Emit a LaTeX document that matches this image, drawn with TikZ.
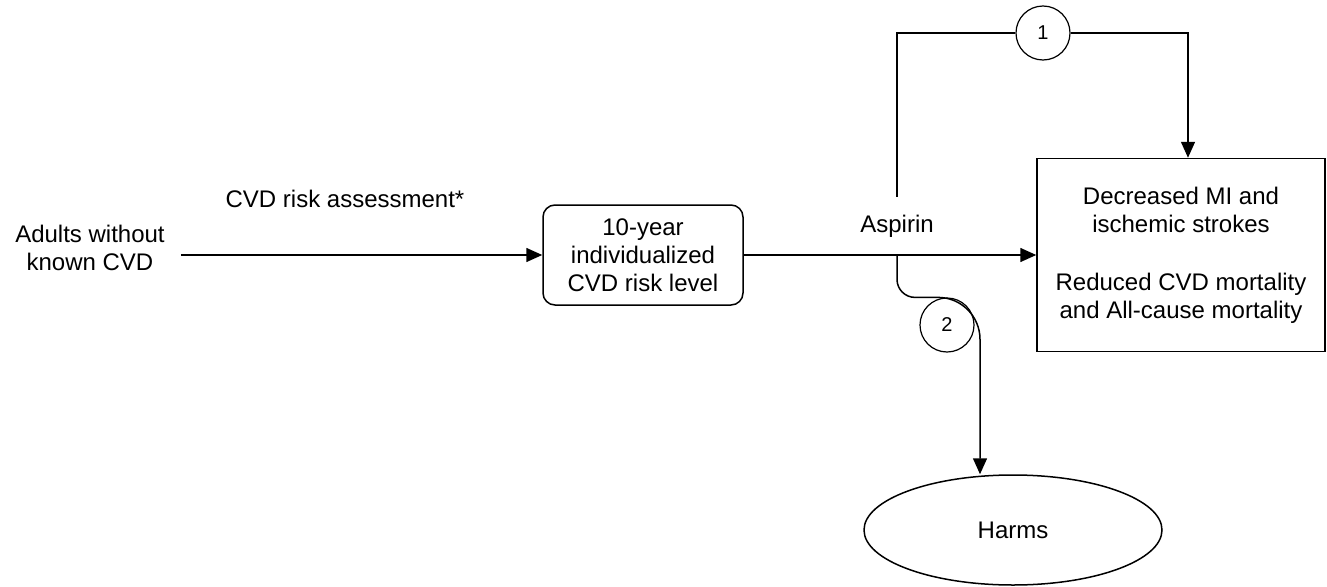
\documentclass[tikz,border=0pt]{standalone}
\usepackage{fontspec}
\setmainfont{Liberation Sans}
\usetikzlibrary{arrows.meta,shapes,positioning,shapes.geometric}

\begin{document}
\begin{tikzpicture} [
		x=1pt, y=-1pt,
		font=\fontsize{24}{28}\selectfont,
		>={Triangle[length=16pt,width=14pt]},
		every node/.style = {align=center},
		txt/.style    = {inner sep=0pt},
		block/.style  = { rectangle, draw=black, line width=1.5pt,
			minimum width=200pt, minimum height=100pt, rounded corners=12pt },
		outbox/.style = { rectangle, draw=black, line width=1.5pt,
			minimum width=288pt, minimum height=193pt },
		keyq/.style   = { circle, draw=black, line width=1.2pt, fill=white,
			minimum size=54pt, inner sep=0pt, font=\fontsize{20}{24}\selectfont },
		harm/.style   = { ellipse, draw=black, line width=1.5pt,
			minimum width=298pt, minimum height=110pt },
		line/.style   = { draw, line width=1.5pt, -> },
	]
	\useasboundingbox (0,0) rectangle (1327,586);
	% Define nodes
	\begin{scope}
		\node [inner xsep=16pt] (adults) at (90,248) {Adults without\\known CVD};
		\node [txt] (assess) at (345,199) {CVD risk assessment*};
		\node [block] (risk) at (643,255) {10-year\\individualized\\CVD risk level};
		\node [outbox] (outcome) at (1181,255) {Decreased MI and\\ischemic strokes\\[30pt]Reduced CVD mortality\\and All-cause mortality};
		\node [txt, inner ysep=18pt] (aspirin) at (897,226) {Aspirin};
		\node [keyq] (kq1) at (1043,33) {1};
		\node [keyq] (kq2) at (947,325) {2};
		\node [harm] (harms) at (1013,530) {Harms};
		\coordinate (harmsin) at ([xshift=-33pt]harms.north);
		\coordinate (benefitin) at ([xshift=7pt]outcome.north);
	\end{scope}
	% connect all nodes defined above
	\begin{scope} [every path/.style=line]
		\path (adults.east |- risk.west) -- (risk.west);
		\path (risk.east) -- (outcome.west);
		\path [-] (aspirin.north) |- (kq1.west);
		\path (kq1.east) -| (benefitin);
		\path (aspirin.south) [rounded corners=18pt] -- (aspirin.south |- kq2.north)
			[rounded corners=42pt] -- (kq2.north -| harmsin) -- (harmsin);
	\end{scope}
\end{tikzpicture}
\end{document}
